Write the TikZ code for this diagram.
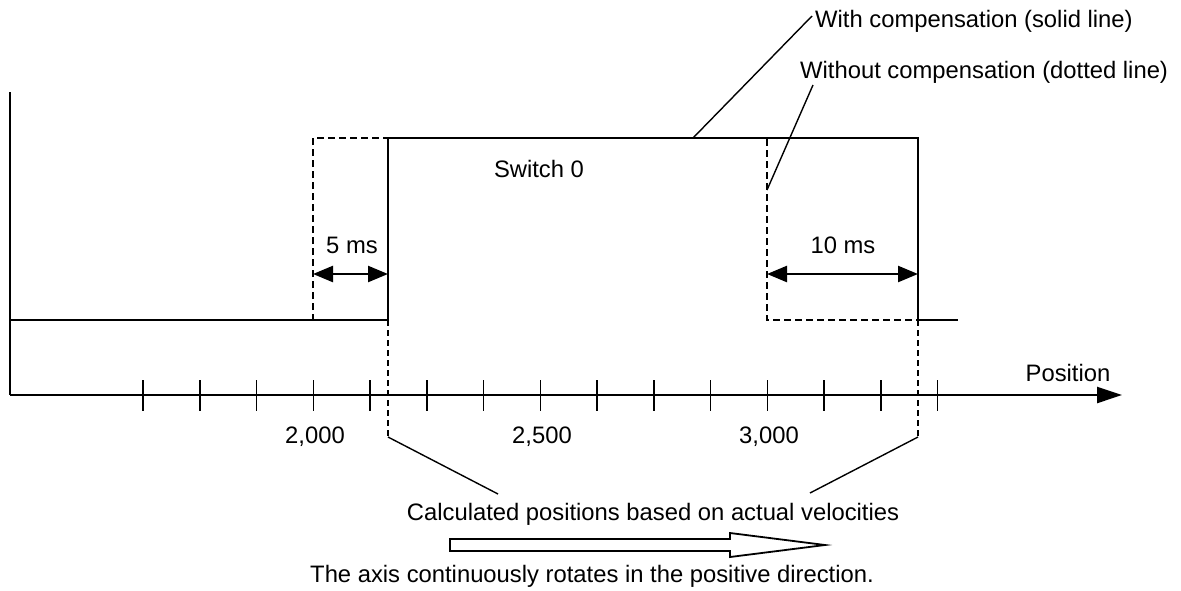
\documentclass[tikz,border=0pt]{standalone}
\usepackage{fontspec}
\setmainfont{Liberation Sans}
\usetikzlibrary{arrows.meta, positioning}

\begin{document}
\begin{tikzpicture}[
    x=1pt, y=-1pt,
    signal/.style={line width=2.4pt},
    nocomp/.style={line width=1.8pt, dash pattern=on 7pt off 4pt},
    guide/.style={line width=1.1pt, dash pattern=on 6pt off 4pt},
    leader/.style={line width=1.4pt},
    span/.style={line width=2.4pt, {Triangle[length=20pt,width=16pt]}-{Triangle[length=20pt,width=16pt]}},
    axis/.style={line width=2.4pt, -{Triangle[length=25pt,width=16pt]}},
    lbl/.style={font=\fontsize{23.8}{28}\selectfont, inner sep=0pt, anchor=base}
]
\useasboundingbox (0,0) rectangle (1181,590);

% Axes
\coordinate (O) at (10,395);
\coordinate (Top) at (10,92);
\coordinate (End) at (1122,395);
\draw[signal] (Top) -- (O);
\draw[axis] (O) -- (End);
\foreach \i in {0,...,14}
    \draw[line width=1.5pt] (143+56.75*\i,380) -- (143+56.75*\i,411);
\node[lbl] (pos) at (1068,381) {Position};
\node[lbl] (t2000) at (315,443) {2,000};
\node[lbl] (t2500) at (542,443) {2,500};
\node[lbl] (t3000) at (769,443) {3,000};

% Without compensation (dashed)
\draw[nocomp] (235,320) -- (313,320) -- (313,138) -- (767,138) -- (767,320) -- (918,320);

% With compensation (solid)
\draw[signal] (10,320) -- (388,320) -- (388,138) -- (918,138) -- (918,320) -- (958,320);

% Spans
\coordinate (s1) at (313,274);
\coordinate (s2) at (388,274);
\coordinate (s3) at (767,274);
\coordinate (s4) at (918,274);
\draw[span] (s1) -- (s2);
\draw[span] (s3) -- (s4);
\node[lbl] (ms5) at (352,253) {5 ms};
\node[lbl] (ms10) at (843,253) {10 ms};
\node[lbl] (sw) at (539,177) {Switch 0};

% Legend
\node[lbl, anchor=base west] (with) at (815,27) {With compensation (solid line)};
\node[lbl, anchor=base west] (without) at (800,78) {Without compensation (dotted line)};
\coordinate (wA) at (693,138);
\coordinate (wB) at (812,16);
\coordinate (woA) at (767,190);
\coordinate (woB) at (813,85);
\draw[leader] (wA) -- (wB);
\draw[leader] (woA) -- (woB);

% Calculated positions
\coordinate (cL) at (388,437);
\coordinate (cR) at (918,437);
\draw[guide] (388,320) -- (cL);
\draw[guide] (918,320) -- (cR);
\node[lbl] (calc) at (653,520) {Calculated positions based on actual velocities};
\draw[leader] (cL) -- (498,494);
\draw[leader] (cR) -- (810,493);

% Direction
\draw[line width=1.8pt] (450,539) -- (730,539) -- (730,533) -- (825,545)
    -- (730,557) -- (730,551) -- (450,551) -- cycle;
\node[lbl] (dir) at (592,582) {The axis continuously rotates in the positive direction.};
\end{tikzpicture}
\end{document}
